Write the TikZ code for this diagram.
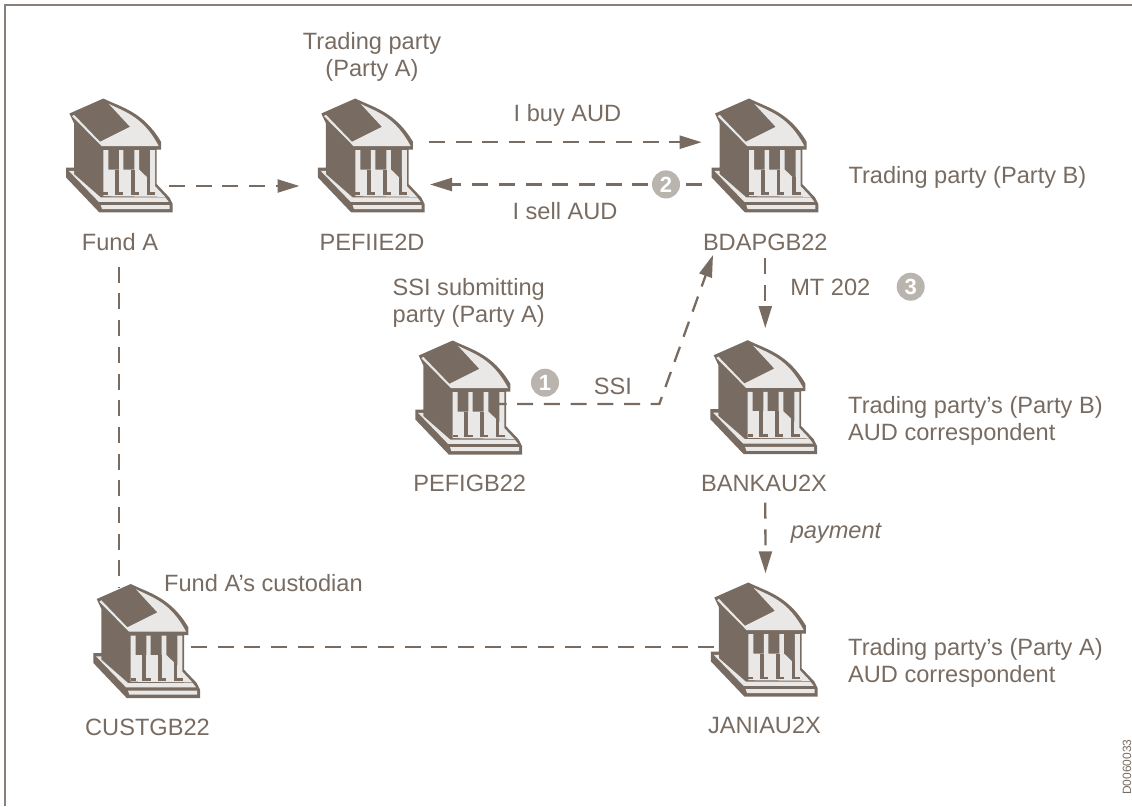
\documentclass[tikz,border=0pt]{standalone}
\usepackage{fontspec}
\setmainfont{Liberation Sans}
\usetikzlibrary{arrows.meta,calc}
\definecolor{ink}{HTML}{786C62}
\definecolor{pale}{HTML}{E9E8E6}
\definecolor{badgegrey}{HTML}{B9B4AE}
\definecolor{framegrey}{HTML}{8A8078}
\tikzset{
  bankbox/.style={minimum width=107pt,minimum height=114pt,inner sep=0pt,outer sep=0pt},
  lblm/.style={font=\fontsize{23.6}{27}\selectfont,text=ink,inner sep=0pt,align=center},
  lbl/.style={lblm,anchor=base},
  lbll/.style={lblm,align=left,anchor=base west},
  lblml/.style={lblm,align=left,anchor=west},
  dashline/.style={draw=ink,line width=2.3pt,dash pattern=on 16pt off 10.7pt},
  arrowline/.style={dashline,-{Triangle[length=22pt,width=13pt]}},
  badge/.style={circle,fill=badgegrey,minimum size=28pt,inner sep=0pt,text=white,font=\fontsize{22}{22}\selectfont\bfseries},
  bankpic/.pic={
    \begin{scope}[x=0.3333pt,y=-0.3333pt,shift={(-208,-226)}]
      % silhouette
      \fill[ink] (160,55) .. controls (215,82) and (280,95) .. (333,185) -- (333,208) -- (320,208)
        -- (320,312) -- (358,352) -- (368,372) -- (368,397) -- (148,397) -- (48,292) -- (48,262)
        -- (72,262) -- (72,130) -- (58,100) -- cycle;
      % roof light face
      \fill[pale] (176,71) .. controls (225,95) and (280,110) .. (326,198) -- (155,198) -- (66,108)
        -- (72,104) -- (150,185) -- (240,140) -- cycle;
      % colonnade
      \fill[pale] (160,210) -- (175,210) -- (175,268) -- (207,268) -- (207,210) -- (220,210) -- (220,268)
        -- (253,268) -- (253,210) -- (267,210) -- (267,268) -- (300,300) -- (300,210) -- (315,210)
        -- (315,318) -- (345,350) -- (160,348) -- cycle;
      % column stems
      \fill[ink] (195,268) rectangle (207,337);
      \fill[ink] (243,268) rectangle (254,337);
      \fill[ink] (290,290) rectangle (300,337);
      \fill[ink] (160,337) rectangle (175,345);
      \fill[ink] (195,337) rectangle (220,345);
      \fill[ink] (243,337) rectangle (266,345);
      \fill[ink] (290,337) rectangle (316,345);
      % base strips
      \fill[pale] (56,272) -- (72,272) -- (72,282) -- (152,352) -- (346,352) -- (356,365) -- (146,365) -- cycle;
      \fill[pale] (152,375) -- (359,375) -- (359,387) -- (156,387) -- cycle;
    \end{scope}
  }
}
\begin{document}
\begin{tikzpicture}[x=1pt,y=-1pt]
\useasboundingbox (0,0) rectangle (1132,806);
\draw[framegrey,line width=2pt] (4.7,806) -- (4.7,4.7) -- (1132,4.7);

\node[bankbox] (fundA) at (119.4,155.5) {};
\node[bankbox] (partyA) at (371.3,155.5) {};
\node[bankbox] (partyB) at (765,155.5) {};
\node[bankbox] (ssiparty) at (468.7,397.5) {};
\node[bankbox] (corrB) at (763.7,397.2) {};
\node[bankbox] (corrA) at (764.3,639.5) {};
\node[bankbox] (cust) at (146.7,641) {};
\foreach \n in {fundA,partyA,partyB,ssiparty,corrB,corrA,cust} \pic at (\n) {bankpic};

\node[lblm] (tA) at (372,56.4) {Trading party\\(Party A)};
\node[lbl] (buy) at (567.5,121.4) {I buy AUD};
\node[lbl] (sell) at (565,219.4) {I sell AUD};
\node[lbl] (lfund) at (120,250.1) {Fund A};
\node[lbl] (lpefi) at (372,250.1) {PEFIIE2D};
\node[lbl] (lbda) at (765.3,250.1) {BDAPGB22};
\node[lbll] (tB) at (848.3,183.9) {Trading party (Party B)};
\node[lblm] (tS) at (468.7,302.9) {SSI submitting\\party (Party A)};
\node[lbl] (lssi) at (612.8,394.4) {SSI};
\node[lbl] (lmt) at (830.3,295.1) {MT 202};
\node[lbl] (lpg) at (469.7,491.7) {PEFIGB22};
\node[lbl] (lbk) at (764,491.7) {BANKAU2X};
\node[lblml] (tCB) at (848,420.6) {Trading party's (Party B)\\AUD correspondent};
\node[lbl,font=\fontsize{23.6}{27}\selectfont\itshape] (lpay) at (836,538.3) {payment};
\node[lbll] (lcust) at (164,591.7) {Fund A's custodian};
\node[lbl] (lcg) at (147.5,735.1) {CUSTGB22};
\node[lbl] (ljn) at (764.5,733.7) {JANIAU2X};
\node[lblml] (tCA) at (848,662.9) {Trading party's (Party A)\\AUD correspondent};
\node[lblm,font=\fontsize{12}{12}\selectfont,rotate=90] (code) at (1127,767) {D0060033};

\draw[arrowline] ($(fundA.east)+(-4,30.5)$) -- ($(partyA.west)+(-18.3,30.5)$);
\draw[arrowline] ($(partyA.east)+(4.2,-13.3)$) -- ($(partyB.west)+(-9.8,-13.3)$);
\draw[arrowline] ($(partyB.west)+(-9.8,29)$) -- ($(partyA.east)+(5.2,29)$);
\coordinate (bend) at (659.3,404);
\draw[arrowline] ($(ssiparty.east)+(-31.7,6.5)$) -- (bend) -- ($(partyB.south)+(-52,42.5)$);
\draw[arrowline] ($(partyB.south)+(0.3,45.5)$) -- ($(corrB.north)+(1.6,-12.2)$);
\draw[arrowline] ($(corrB.south)+(1.6,48.5)$) -- ($(corrA.north)+(1.2,-9.2)$);
\draw[dashline] ($(fundA.south)+(-0.7,54.2)$) -- ($(cust.north)+(-28,4)$);
\draw[dashline] ($(cust.east)+(-9.2,6.3)$) -- ($(corrA.west)+(3.5,7.8)$);

\node[badge] (b1) at (545,382.7) {1};
\node[badge] (b2) at (666,184.4) {2};
\node[badge] (b3) at (910.7,286.7) {3};
\end{tikzpicture}
\end{document}
